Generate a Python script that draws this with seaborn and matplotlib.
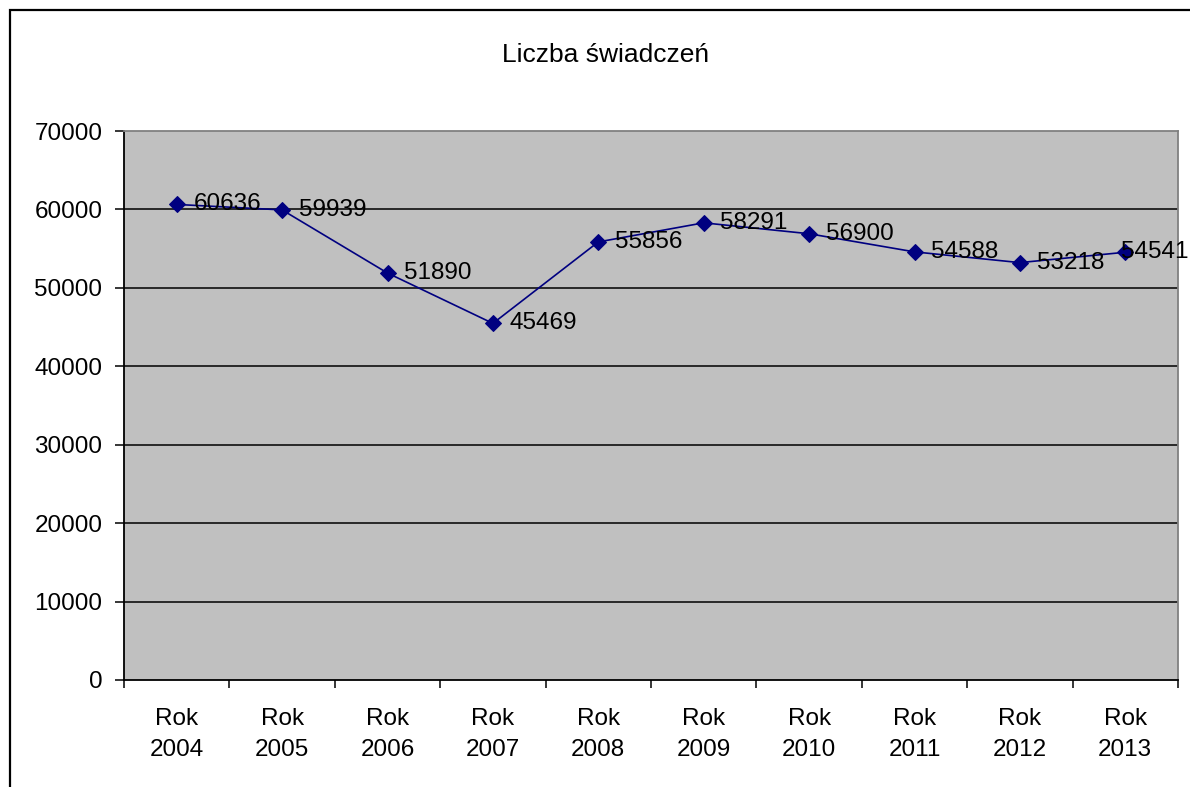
import matplotlib
matplotlib.use("Agg")
import matplotlib.pyplot as plt
import seaborn as sns
import pandas as pd
from matplotlib.patches import Rectangle

# ---------- dane ----------
lata = ["Rok\n2004", "Rok\n2005", "Rok\n2006", "Rok\n2007", "Rok\n2008",
        "Rok\n2009", "Rok\n2010", "Rok\n2011", "Rok\n2012", "Rok\n2013"]
swiadczenia = [60636, 59939, 51890, 45469, 55856, 58291, 56900, 54588, 53218, 54541]
y_ticks = [0, 10000, 20000, 30000, 40000, 50000, 60000, 70000]
tytul = "Liczba świadczeń"

df = pd.DataFrame({"poz": range(len(lata)), "liczba": swiadczenia})

sns.set_style("white")
plt.rcParams["font.family"] = ["Liberation Sans", "DejaVu Sans"]
plt.rcParams["text.color"] = "black"
plt.rcParams["xtick.color"] = "black"
plt.rcParams["ytick.color"] = "black"
FS = 17.5

fig = plt.figure(figsize=(11.9, 7.87), dpi=100)
ax = fig.add_axes([124 / 1190, 1 - 680 / 787, (1178 - 124) / 1190, (680 - 131) / 787])
ax.set_facecolor("#C0C0C0")

# siatka pozioma
for v in y_ticks[1:-1]:
    ax.axhline(v, color="black", lw=1.1, zorder=1)

sns.lineplot(data=df, x="poz", y="liczba", ax=ax, color="#000080", lw=1.2,
             marker="D", markersize=8, markeredgecolor="#000080", zorder=3)

# etykiety danych (ostatnia przesunięta, żeby zmieściła się w ramce)
for i, v in enumerate(swiadczenia):
    dx = 12 if i < len(swiadczenia) - 1 else -3
    ax.annotate(str(v), (i, v), xytext=(dx, 0), textcoords="offset points",
                ha="left", va="center", fontsize=FS, color="black", zorder=4,
                annotation_clip=False)

ax.set_xlim(-0.5, len(lata) - 0.5)
ax.set_ylim(0, 70000)
ax.set_yticks(y_ticks)
ax.set_yticklabels([str(t) for t in y_ticks], fontsize=FS)
ax.tick_params(axis="y", direction="out", length=6.5, width=1.1, pad=9, left=True)

# kreski między kategoriami, etykiety na środkach
ax.set_xticks([i - 0.5 for i in range(len(lata) + 1)])
ax.set_xticklabels([])
ax.set_xticks(range(len(lata)), minor=True)
ax.set_xticklabels(lata, minor=True, fontsize=FS, linespacing=1.55)
ax.tick_params(axis="x", which="major", direction="out", length=6, width=1.1, bottom=True)
ax.tick_params(axis="x", which="minor", length=0, pad=20)
ax.set_xlabel("")
ax.set_ylabel("")

for s in ["left", "bottom"]:
    ax.spines[s].set_color("black")
    ax.spines[s].set_linewidth(1.3)
for s in ["top", "right"]:
    ax.spines[s].set_color("#808080")
    ax.spines[s].set_linewidth(1.3)

fig.text(605 / 1190, 1 - 55 / 787, tytul, ha="center", va="center", fontsize=19)

# ramka wykresu
fig.patches.append(Rectangle((9.5 / 1190, -0.2), 1.2, 1.2 - 9.5 / 787, transform=fig.transFigure,
                             fill=False, edgecolor="black", lw=1.6))

fig.savefig("out.png", dpi=100)
